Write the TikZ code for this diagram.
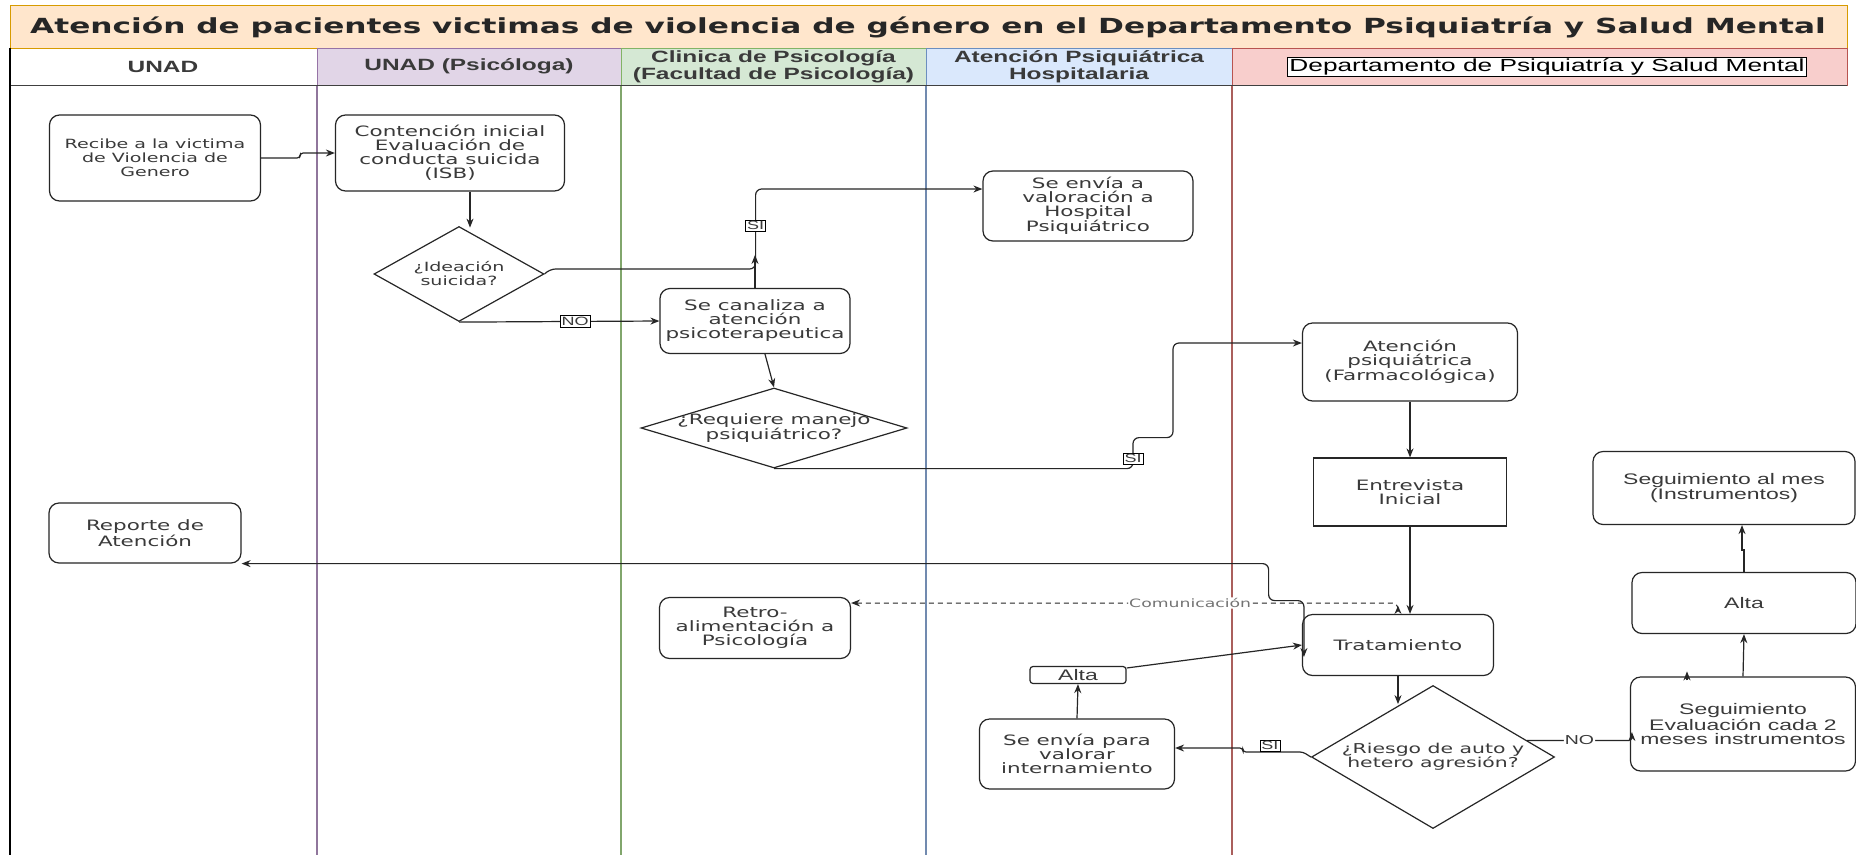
\documentclass[tikz,border=0pt]{standalone}
\usepackage{fontspec}
\usetikzlibrary{shapes.geometric,arrows.meta}

\newfontfamily\cajafont[FakeStretch=1.5]{DejaVu Sans}
\newfontfamily\arialfont[FakeStretch=1.5]{Liberation Sans}

\definecolor{titfondo}{HTML}{FFE6CC}
\definecolor{titborde}{HTML}{D79B00}
\definecolor{morado}{HTML}{E1D5E7}
\definecolor{moradoB}{HTML}{9673A6}
\definecolor{verde}{HTML}{D5E8D4}
\definecolor{verdeB}{HTML}{82B366}
\definecolor{azul}{HTML}{DAE8FC}
\definecolor{azulB}{HTML}{6C8EBF}
\definecolor{rojo}{HTML}{F8CECC}
\definecolor{rojoB}{HTML}{B85450}
\definecolor{texto}{HTML}{3A3A3A}

\begin{document}
\begin{tikzpicture}[x=1pt, y=-1pt,
  caja/.style={draw=black!85, line width=1.2pt, rounded corners=10pt, fill=white,
    align=center, text=texto, inner sep=2pt,
    font=\cajafont\fontsize{14.3}{14}\selectfont},
  chica/.style={font=\cajafont\fontsize{12.7}{14}\selectfont},
  cajaarial/.style={caja, font=\arialfont\fontsize{15.3}{14}\selectfont},
  rombo/.style={diamond, draw=black!85, line width=1.2pt, fill=white, inner sep=0pt},
  rombotxt/.style={align=center, text=texto, inner sep=0pt,
    font=\cajafont\fontsize{14.3}{14}\selectfont},
  encab/.style={align=center, text=texto,
    font=\arialfont\bfseries\fontsize{16.3}{17.5}\selectfont},
  etq/.style={draw=black, sharp corners, line width=0.8pt, fill=white, inner sep=1.5pt, text=texto,
    font=\arialfont\fontsize{12}{12}\selectfont},
  flecha/.style={draw=black!85, line width=1.2pt, -{Stealth[length=9pt,width=7pt]}},
]

\useasboundingbox (0,0) rectangle (1856,855);
\fill[white] (0,0) rectangle (1856,855);

% Titulo
\filldraw[fill=titfondo, draw=titborde, line width=1pt] (10,5) rectangle (1847,48);
\node[text=black!85, font=\cajafont\bfseries\fontsize{20.8}{20.8}\selectfont] (titulo) at (928,27)
  {Atención de pacientes victimas de violencia de género en el Departamento Psiquiatría y Salud Mental};

% Carriles
\foreach \xa/\xb/\fondo/\borde in {317/621/morado/moradoB, 621/926/verde/verdeB,
    926/1232/azul/azulB, 1232/1847/rojo/rojoB}{
  \filldraw[fill=\fondo, draw=\borde, line width=1pt] (\xa,48) rectangle (\xb,85);
  \draw[\borde!75!gray, line width=1.2pt] (\xa,85) -- (\xa,855);
}
\draw[black!75, line width=1pt] (10,85) -- (1847,85);
\draw[black, line width=2pt] (10,48) -- (10,855);

\node[encab] (encUnad) at (163,66.5) {UNAD};
\node[encab] (encPsicologa) at (469,66.5) {UNAD (Psicóloga)};
\node[encab] (encClinica) at (773.5,66.5) {Clinica de Psicología\\(Facultad de Psicología)};
\node[encab] (encHospital) at (1079,66.5) {Atención Psiquiátrica\\Hospitalaria};
\node[draw=black, line width=1pt, fill=white, inner sep=1.5pt, text=black,
  font=\arialfont\fontsize{17.5}{17.5}\selectfont] (encDepto) at (1547,67)
  {Departamento de Psiquiatría y Salud Mental};

% Nodos
\node[caja, chica, minimum width=211pt, minimum height=86pt] (recibe) at (155,158)
  {Recibe a la victima\\de Violencia de\\Genero};
\node[caja, minimum width=229pt, minimum height=76pt] (contencion) at (450,153)
  {Contención inicial\\Evaluación de\\conducta suicida\\(ISB)};
\node[rombo, minimum width=170pt, minimum height=95pt,
  label={[rombotxt, chica]center:{¿Ideación\\suicida?}}] (ideacion) at (459,274) {};
\node[caja, minimum width=190pt, minimum height=65pt] (canaliza) at (755,321)
  {Se canaliza a\\atención\\psicoterapeutica};
\node[caja, minimum width=210pt, minimum height=70pt] (envia) at (1088,206)
  {Se envía a\\valoración a\\Hospital\\Psiquiátrico};
\node[rombo, minimum width=266pt, minimum height=80pt,
  label={[rombotxt]center:{¿Requiere manejo\\psiquiátrico?}}] (requiere) at (774,428) {};
\node[caja, minimum width=215pt, minimum height=78pt] (atpsiq) at (1410,362)
  {Atención\\psiquiátrica\\(Farmacológica)};
\node[caja, sharp corners, minimum width=193pt, minimum height=68pt] (entrevista) at (1410,492)
  {Entrevista\\Inicial};
\node[cajaarial, minimum width=262pt, minimum height=73pt] (segmes) at (1724,488)
  {Seguimiento al mes\\(Instrumentos)};
\node[caja, minimum width=192pt, minimum height=60pt] (reporte) at (145,533)
  {Reporte de\\Atención};
\node[caja, minimum width=191pt, minimum height=61pt] (retro) at (755,628)
  {Retro-\\alimentación a\\Psicología};
\node[caja, minimum width=191pt, minimum height=61pt] (tratamiento) at (1398,645)
  {Tratamiento};
\node[cajaarial, rounded corners=3pt, inner sep=0pt, minimum width=96pt, minimum height=17pt]
  (alta1) at (1078,675) {Alta};
\node[caja, minimum width=195pt, minimum height=70pt] (valorar) at (1077,754)
  {Se envía para\\valorar\\internamiento};
\node[rombo, minimum width=243pt, minimum height=143pt,
  label={[rombotxt, font=\cajafont\fontsize{13.6}{14}\selectfont]center:{¿Riesgo de auto y\\hetero agresión?}}]
  (riesgo) at (1433,757) {};
\node[cajaarial, minimum width=225pt, minimum height=94pt] (seguimiento) at (1743,724)
  {Seguimiento\\Evaluación cada 2\\meses instrumentos};
\node[cajaarial, minimum width=224pt, minimum height=61pt] (alta2) at (1744,603) {Alta};

% Conectores
\draw[flecha, rounded corners=3pt] (recibe.east) -- ++(39,0) |- (contencion.west);
\draw[flecha] ([xshift=20pt]contencion.south) -- ++(0,36);
\draw[flecha, rounded corners=6pt] (ideacion.east) -- ++(5,-5) -- ++(206,0)
  |- ([yshift=17pt]envia.west) node[pos=0.27, etq] (si1) {SI};
\draw[flecha] (ideacion.south) -- (canaliza.west) node[pos=0.58, etq] (no1) {NO};
\draw[flecha] (canaliza.north) -- ++(0,-33);
\draw[flecha] ([xshift=10pt]canaliza.south) -- (requiere.north);
\draw[flecha, rounded corners=6pt] (requiere.south) -- ++(359,0)
  -- ++(0,-31) node[pos=0.32, etq] (si2) {SI} -- ++(40,0) |- ([yshift=19pt]atpsiq.west);
\draw[flecha] (atpsiq) -- (entrevista);
\draw[flecha] (entrevista.south) -- (entrevista.south |- tratamiento.north);
\draw[flecha, {Stealth[length=9pt,width=7pt]}-{Stealth[length=9pt,width=7pt]}, rounded corners=6pt]
  (reporte.south east) -- ++(1027,0) -- ++(0,37) -| ([xshift=2pt,yshift=-12pt]tratamiento.west);
\draw[draw=black!85, line width=1pt, dash pattern=on 5pt off 4pt, rounded corners=6pt,
  {Stealth[length=9pt,width=7pt]}-{Stealth[length=8pt,width=7pt,reversed]}]
  ([yshift=25pt]retro.east) -| (tratamiento.north)
  node[pos=0.31, fill=white, inner sep=1pt, text=black!55,
    font=\cajafont\fontsize{11.5}{11.5}\selectfont] (comu) {Comunicación};
\draw[flecha] ([yshift=7pt]alta1.east) -- (tratamiento.west);
\draw[flecha] (valorar.north) -- (alta1.south);
\draw[flecha] (tratamiento.south) -- ++(0,28);
\draw[flecha, rounded corners=3pt] (riesgo.west) -- ++(-8,-5)
  -- ++(-60,0) node[pos=0.55, etq, anchor=south] (si3) {SI} |- ([yshift=6pt]valorar.east);
\draw[flecha, rounded corners=3pt] (riesgo.10) -| ([xshift=2pt,yshift=-8pt]seguimiento.west)
  node[pos=0.25, fill=white, inner sep=1pt, text=texto,
    font=\arialfont\fontsize{13}{13}\selectfont] (no2) {NO};
\draw[flecha] (seguimiento.north) -- (alta2.south);
\draw[flecha] ([xshift=-56pt,yshift=-4pt]seguimiento.north) -- ([xshift=-56pt,yshift=5pt]seguimiento.north);
\draw[flecha] (alta2.north) -- ++(0,-22) -| ([xshift=18pt]segmes.south);

\end{tikzpicture}
\end{document}
